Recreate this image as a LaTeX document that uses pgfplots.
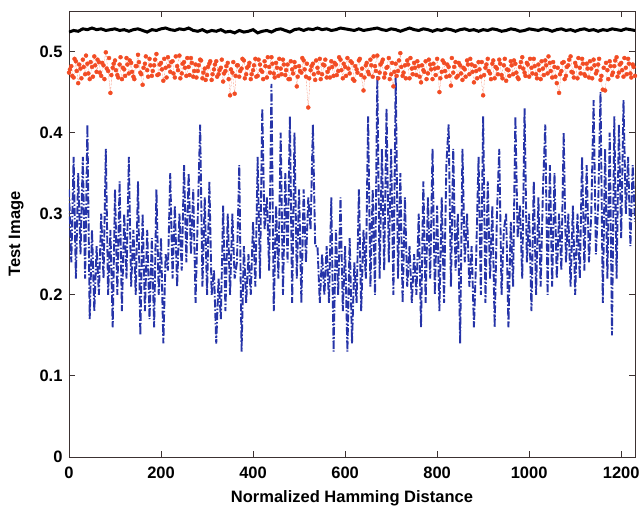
\documentclass[border=0pt]{standalone}
\usepackage{fontspec}
\setmainfont{Liberation Sans}
\usepackage{pgfplots}
\pgfplotsset{compat=1.18}
\definecolor{hamBlue}{RGB}{38,52,168}
\definecolor{hamRed}{RGB}{242,76,36}
\definecolor{axisGray}{RGB}{60,50,50}
\begin{document}
\begin{tikzpicture}
\begin{axis}[
    scale only axis,
    width=566pt, height=446pt,
    xmin=0, xmax=1230, ymin=0, ymax=0.55,
    xtick={0,200,...,1200},
    ytick={0,0.1,0.2,0.3,0.4,0.5},
    tick align=inside,
    major tick length=6pt,
    axis line style={axisGray, line width=0.9pt},
    every tick/.style={axisGray, line width=0.9pt},
    tick label style={font=\fontsize{16.5}{18}\selectfont\bfseries},
    /pgf/number format/assume math mode=true,
    /pgf/number format/set thousands separator={},
    yticklabel style={xshift=-3pt},
    xticklabel style={yshift=-6pt},
    label style={font=\fontsize{16.5}{18}\selectfont\bfseries},
    xlabel={Normalized Hamming Distance},
    ylabel={Test Image},
    xlabel style={yshift=-5pt},
    ylabel style={yshift=9pt},
    clip=true,
]
% black series
\addplot[black, line width=3pt] coordinates {
(0,.524)(10,.526)(20,.525)(30,.528)(40,.527)(50,.529)(60,.527)(70,.528)(80,.526)(90,.527)
(100,.528)(110,.526)(120,.527)(130,.525)(140,.527)(150,.528)(160,.526)(170,.524)(180,.527)(190,.526)
(200,.528)(210,.529)(220,.527)(230,.526)(240,.528)(250,.527)(260,.529)(270,.526)(280,.525)(290,.527)
(300,.524)(310,.526)(320,.525)(330,.527)(340,.524)(350,.525)(360,.523)(370,.526)(380,.524)(390,.525)
(400,.527)(410,.523)(420,.525)(430,.526)(440,.524)(450,.527)(460,.528)(470,.526)(480,.524)(490,.527)
(500,.528)(510,.526)(520,.528)(530,.527)(540,.529)(550,.527)(560,.528)(570,.526)(580,.527)(590,.529)
(600,.528)(610,.527)(620,.526)(630,.528)(640,.526)(650,.527)(660,.528)(670,.529)(680,.527)(690,.526)
(700,.528)(710,.527)(720,.525)(730,.527)(740,.529)(750,.527)(760,.526)(770,.528)(780,.527)(790,.525)
(800,.527)(810,.526)(820,.528)(830,.527)(840,.525)(850,.527)(860,.528)(870,.526)(880,.527)(890,.525)
(900,.527)(910,.526)(920,.528)(930,.527)(940,.525)(950,.526)(960,.528)(970,.527)(980,.525)(990,.526)
(1000,.528)(1010,.527)(1020,.526)(1030,.528)(1040,.527)(1050,.525)(1060,.527)(1070,.528)(1080,.526)(1090,.527)
(1100,.525)(1110,.527)(1120,.528)(1130,.526)(1140,.527)(1150,.525)(1160,.527)(1170,.526)(1180,.528)(1190,.527)
(1200,.526)(1210,.528)(1220,.527)(1230,.526)
};
% red series
\addplot[hamRed, densely dotted, line width=0.4pt, mark=*, mark size=2pt,
    mark options={solid, fill=hamRed, draw=hamRed}] coordinates {
(0,.474)(5,.482)(10,.468)(15,.488)(20,.461)(25,.479)(30,.490)(35,.472)(40,.485)(45,.466)
(50,.481)(55,.494)(60,.475)(65,.487)(70,.470)(75,.483)(80,.499)(85,.476)(90,.449)(95,.480)
(100,.489)(105,.471)(110,.484)(115,.466)(120,.478)(125,.492)(130,.473)(135,.486)(140,.469)(145,.482)
(150,.496)(155,.474)(160,.459)(165,.485)(170,.477)(175,.491)(180,.470)(185,.483)(190,.497)(195,.472)
(200,.486)(205,.464)(210,.480)(215,.493)(220,.475)(225,.488)(230,.468)(235,.482)(240,.495)(245,.473)
(250,.487)(255,.470)(260,.481)(265,.492)(270,.469)(275,.484)(280,.476)(285,.490)(290,.467)(295,.479)
(300,.471)(305,.485)(310,.465)(315,.478)(320,.488)(325,.472)(330,.480)(335,.463)(340,.476)(345,.486)
(350,.446)(355,.474)(360,.448)(365,.483)(370,.469)(375,.479)(380,.489)(385,.472)(390,.482)(395,.466)
(400,.477)(405,.491)(410,.470)(415,.484)(420,.475)(425,.488)(430,.468)(435,.481)(440,.493)(445,.473)
(450,.486)(455,.470)(460,.479)(465,.490)(470,.471)(475,.484)(480,.466)(485,.478)(490,.487)(495,.457)
(500,.482)(505,.474)(510,.489)(515,.469)(520,.431)(525,.477)(530,.485)(535,.465)(540,.480)(545,.491)
(550,.472)(555,.483)(560,.468)(565,.479)(570,.488)(575,.470)(580,.484)(585,.476)(590,.490)(595,.467)
(600,.481)(605,.492)(610,.473)(615,.486)(620,.464)(625,.478)(630,.489)(635,.471)(640,.452)(645,.483)
(650,.475)(655,.490)(660,.469)(665,.482)(670,.495)(675,.474)(680,.487)(685,.468)(690,.480)(695,.492)
(700,.472)(705,.457)(710,.485)(715,.476)(720,.498)(725,.470)(730,.483)(735,.489)(740,.467)(745,.479)
(750,.486)(755,.471)(760,.482)(765,.462)(770,.477)(775,.488)(780,.473)(785,.484)(790,.466)(795,.479)
(800,.491)(805,.450)(810,.475)(815,.486)(820,.469)(825,.481)(830,.458)(835,.474)(840,.487)(845,.470)
(850,.483)(855,.465)(860,.478)(865,.489)(870,.472)(875,.484)(880,.462)(885,.476)(890,.487)(895,.469)
(900,.446)(905,.480)(910,.491)(915,.473)(920,.485)(925,.467)(930,.479)(935,.490)(940,.471)(945,.483)
(950,.464)(955,.477)(960,.488)(965,.472)(970,.485)(975,.468)(980,.481)(985,.493)(990,.474)(995,.486)
(1000,.469)(1005,.480)(1010,.491)(1015,.472)(1020,.484)(1025,.466)(1030,.479)(1035,.489)(1040,.473)(1045,.486)
(1050,.468)(1055,.481)(1060,.461)(1065,.449)(1070,.476)(1075,.487)(1080,.470)(1085,.483)(1090,.494)(1095,.474)
(1100,.486)(1105,.467)(1110,.480)(1115,.491)(1120,.472)(1125,.485)(1130,.468)(1135,.479)(1140,.490)(1145,.473)
(1150,.484)(1155,.465)(1160,.453)(1165,.452)(1170,.477)(1175,.488)(1180,.471)(1185,.482)(1190,.493)(1195,.474)
(1200,.486)(1205,.469)(1210,.480)(1215,.491)(1220,.473)(1225,.484)(1230,.470)
};
% red series, in-between samples
\addplot[hamRed, only marks, mark=*, mark size=2pt,
    mark options={fill=hamRed, draw=hamRed}] coordinates {
(2,.478)(7,.470)(12,.491)(17,.476)(22,.484)(27,.467)(32,.481)(37,.495)(42,.473)(47,.487)
(52,.469)(57,.483)(62,.490)(67,.474)(72,.486)(77,.466)(82,.479)(87,.492)(92,.471)(97,.485)
(102,.477)(107,.468)(112,.493)(117,.480)(122,.470)(127,.484)(132,.489)(137,.475)(142,.466)(147,.482)
(152,.487)(157,.472)(162,.480)(167,.494)(172,.469)(177,.483)(182,.476)(187,.490)(192,.471)(197,.484)
(202,.478)(207,.491)(212,.468)(217,.482)(222,.487)(227,.473)(232,.494)(237,.477)(242,.467)(247,.485)
(252,.480)(257,.492)(262,.471)(267,.486)(272,.476)(277,.468)(282,.483)(287,.489)(292,.474)(297,.465)
(302,.481)(307,.488)(312,.472)(317,.484)(322,.469)(327,.477)(332,.490)(337,.473)(342,.482)(347,.466)
(352,.478)(357,.487)(362,.470)(367,.483)(372,.476)(377,.491)(382,.467)(387,.480)(392,.486)(397,.472)
(402,.483)(407,.469)(412,.490)(417,.477)(422,.466)(427,.482)(432,.493)(437,.474)(442,.485)(447,.468)
(452,.480)(457,.491)(462,.472)(467,.484)(472,.477)(477,.466)(482,.488)(487,.473)(492,.481)(497,.469)
(502,.476)(507,.492)(512,.478)(517,.485)(522,.467)(527,.482)(532,.472)(537,.489)(542,.474)(547,.466)
(552,.484)(557,.490)(562,.475)(567,.468)(572,.481)(577,.486)(582,.471)(587,.493)(592,.477)(597,.485)
(602,.470)(607,.479)(612,.488)(617,.466)(622,.482)(627,.474)(632,.491)(637,.479)(642,.468)(647,.486)
(652,.472)(657,.483)(662,.494)(667,.476)(672,.467)(677,.484)(682,.490)(687,.473)(692,.481)(697,.466)
(702,.486)(707,.475)(712,.470)(717,.489)(722,.481)(727,.474)(732,.467)(737,.484)(742,.492)(747,.472)
(752,.480)(757,.488)(762,.469)(767,.483)(772,.475)(777,.466)(782,.490)(787,.478)(792,.485)(797,.471)
(802,.480)(807,.467)(812,.489)(817,.476)(822,.484)(827,.470)(832,.492)(837,.481)(842,.468)(847,.486)
(852,.473)(857,.480)(862,.469)(867,.484)(872,.491)(877,.475)(882,.482)(887,.467)(892,.478)(897,.487)
(902,.471)(907,.484)(912,.476)(917,.466)(922,.489)(927,.481)(932,.472)(937,.485)(942,.467)(947,.491)
(952,.478)(957,.470)(962,.483)(967,.489)(972,.474)(977,.466)(982,.487)(987,.479)(992,.470)(997,.484)
(1002,.491)(1007,.473)(1012,.482)(1017,.467)(1022,.477)(1027,.488)(1032,.471)(1037,.483)(1042,.494)(1047,.476)
(1052,.487)(1057,.469)(1062,.480)(1067,.472)(1072,.486)(1077,.466)(1082,.481)(1087,.490)(1092,.475)(1097,.468)
(1102,.482)(1107,.492)(1112,.473)(1117,.485)(1122,.470)(1127,.479)(1132,.488)(1137,.467)(1142,.483)(1147,.476)
(1152,.491)(1157,.470)(1162,.480)(1167,.486)(1172,.466)(1177,.482)(1182,.474)(1187,.489)(1192,.469)(1197,.484)
(1202,.477)(1207,.492)(1212,.472)(1217,.485)(1222,.468)(1227,.481)
};
% blue series
\addplot[hamBlue, line width=1.9pt, dash pattern=on 8pt off 2pt on 1.5pt off 2pt] coordinates {
(0,.33)(5,.24)(10,.37)(15,.22)(20,.35)(25,.25)(30,.37)(35,.22)(40,.41)(45,.17)
(50,.28)(55,.18)(60,.26)(65,.20)(70,.30)(75,.22)(80,.38)(85,.20)(90,.28)(95,.16)
(100,.33)(105,.20)(110,.34)(115,.18)(120,.30)(125,.22)(130,.37)(135,.21)(140,.28)(145,.20)
(150,.34)(155,.15)(160,.30)(165,.18)(170,.28)(175,.17)(180,.27)(185,.16)(190,.33)(195,.20)
(200,.27)(205,.14)(210,.25)(215,.23)(220,.35)(225,.22)(230,.31)(235,.21)(240,.30)(245,.23)
(250,.36)(255,.24)(260,.35)(265,.25)(270,.33)(275,.19)(280,.30)(285,.41)(290,.21)(295,.32)
(300,.20)(305,.34)(310,.20)(315,.23)(320,.14)(325,.22)(330,.17)(335,.31)(340,.18)(345,.30)
(350,.20)(355,.30)(360,.22)(365,.24)(370,.36)(375,.13)(380,.26)(385,.19)(390,.25)(395,.20)
(400,.29)(405,.21)(410,.37)(415,.22)(420,.43)(425,.28)(430,.32)(435,.23)(440,.46)(445,.18)
(450,.31)(455,.22)(460,.40)(465,.20)(470,.35)(475,.24)(480,.42)(485,.19)(490,.40)(495,.22)
(500,.33)(505,.19)(510,.33)(515,.24)(520,.32)(525,.28)(530,.41)(535,.26)(540,.26)(545,.19)
(550,.25)(555,.20)(560,.26)(565,.19)(570,.32)(575,.13)(580,.28)(585,.20)(590,.32)(595,.18)
(600,.26)(605,.13)(610,.27)(615,.14)(620,.24)(625,.19)(630,.33)(635,.18)(640,.28)(645,.22)
(650,.42)(655,.21)(660,.33)(665,.20)(670,.47)(675,.22)(680,.38)(685,.23)(690,.43)(695,.24)
(700,.38)(705,.20)(710,.47)(715,.22)(720,.35)(725,.19)(730,.32)(735,.21)(740,.26)(745,.19)
(750,.25)(755,.20)(760,.30)(765,.16)(770,.34)(775,.19)(780,.32)(785,.22)(790,.38)(795,.20)
(800,.31)(805,.18)(810,.32)(815,.19)(820,.36)(825,.41)(830,.21)(835,.38)(840,.23)(845,.30)
(850,.14)(855,.38)(860,.24)(865,.30)(870,.21)(875,.26)(880,.16)(885,.25)(890,.37)(895,.20)
(900,.42)(905,.19)(910,.34)(915,.22)(920,.31)(925,.16)(930,.30)(935,.38)(940,.20)(945,.28)
(950,.30)(955,.16)(960,.29)(965,.21)(970,.42)(975,.27)(980,.31)(985,.22)(990,.43)(995,.24)
(1000,.30)(1005,.18)(1010,.34)(1015,.20)(1020,.32)(1025,.21)(1030,.33)(1035,.41)(1040,.20)(1045,.36)
(1050,.21)(1055,.35)(1060,.22)(1065,.30)(1070,.23)(1075,.40)(1080,.24)(1085,.30)(1090,.21)(1095,.31)
(1100,.20)(1105,.30)(1110,.22)(1115,.37)(1120,.23)(1125,.36)(1130,.24)(1135,.30)(1140,.44)(1145,.25)
(1150,.31)(1155,.45)(1160,.19)(1165,.38)(1170,.22)(1175,.40)(1180,.15)(1185,.42)(1190,.22)(1195,.41)
(1200,.27)(1205,.44)(1210,.30)(1215,.37)(1220,.26)(1225,.36)(1230,.29)
};
\end{axis}
\path (current axis.south west) ++(-69pt,-53pt);
\path (current axis.north east) ++(9pt,11pt);
\end{tikzpicture}
\end{document}
